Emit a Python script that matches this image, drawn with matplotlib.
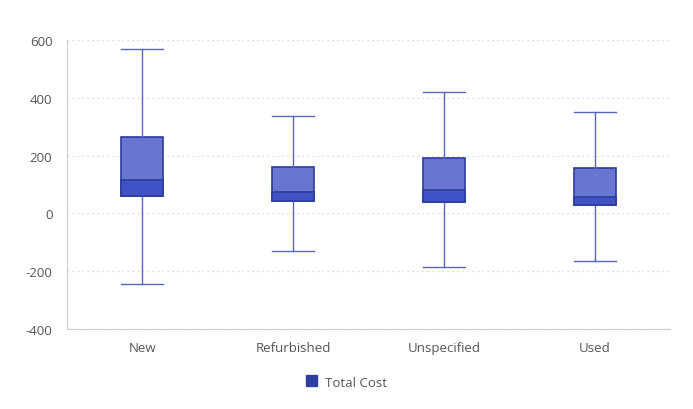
import matplotlib
matplotlib.use("Agg")
import matplotlib.pyplot as plt
from matplotlib.patches import Patch

plt.rcParams['font.family'] = ['Open Sans', 'DejaVu Sans']

# 数据
categories = ['New', 'Refurbished', 'Unspecified', 'Used']
whisker_low = [-245, -131, -187, -166]
q1 = [59, 42, 38, 28]
median = [115, 74, 81, 56]
q3 = [263, 160, 191, 156]
whisker_high = [568, 336, 419, 350]
y_ticks = [-400, -200, 0, 200, 400, 600]

light = '#6876d0'
dark = '#4152c6'
edge = '#2c3c9c'
whisk = '#5566bb'

fig = plt.figure(figsize=(6.93, 4.10), dpi=100)
ax = fig.add_axes([67 / 693, 80 / 410, 603 / 693, 289 / 410])

stats = []
for i, name in enumerate(categories):
    stats.append({'label': name, 'whislo': whisker_low[i], 'q1': q1[i],
                  'med': median[i], 'q3': q3[i], 'whishi': whisker_high[i]})

pos = list(range(len(categories)))
ax.bxp(stats, positions=pos, widths=0.28, patch_artist=True, showfliers=False,
       boxprops=dict(facecolor=light, edgecolor=edge, linewidth=1.2),
       whiskerprops=dict(color=whisk, linewidth=1),
       capprops=dict(color=whisk, linewidth=1),
       medianprops=dict(color=edge, linewidth=0), capwidths=0.28,
       zorder=3)

# 下半部分 (Q1 到中位数) 用深色
lower_h = [m - a for m, a in zip(median, q1)]
ax.bar(pos, lower_h, bottom=q1, width=0.28, color=dark, edgecolor=edge,
       linewidth=1.2, zorder=4)

ax.set_xlim(-0.5, 3.5)
ax.set_ylim(-400, 600)
ax.set_yticks(y_ticks)
ax.set_yticklabels([str(v) for v in y_ticks])
ax.set_xticks(pos)
ax.set_xticklabels(categories)

ax.grid(axis='y', linestyle=(0, (1, 3)), color='#d0d0d0', linewidth=0.9, zorder=0)
ax.set_axisbelow(True)
for s in ['top', 'right']:
    ax.spines[s].set_visible(False)
for s in ['left', 'bottom']:
    ax.spines[s].set_color('#cccccc')
ax.tick_params(axis='both', length=0, colors='#555555', labelsize=9.5)
ax.tick_params(axis='y', pad=10.5)
ax.tick_params(axis='x', pad=8.5)

handles = [Patch(facecolor='#2f3ea3', edgecolor='#2f3ea3', label='Total Cost')]
fig.legend(handles=handles, loc='center', bbox_to_anchor=(0.5, 27 / 410),
           frameon=False, fontsize=9.5, handlelength=0.9, handleheight=0.9,
           handletextpad=0.6, labelcolor='#555555')

fig.savefig('out.png', dpi=100)
